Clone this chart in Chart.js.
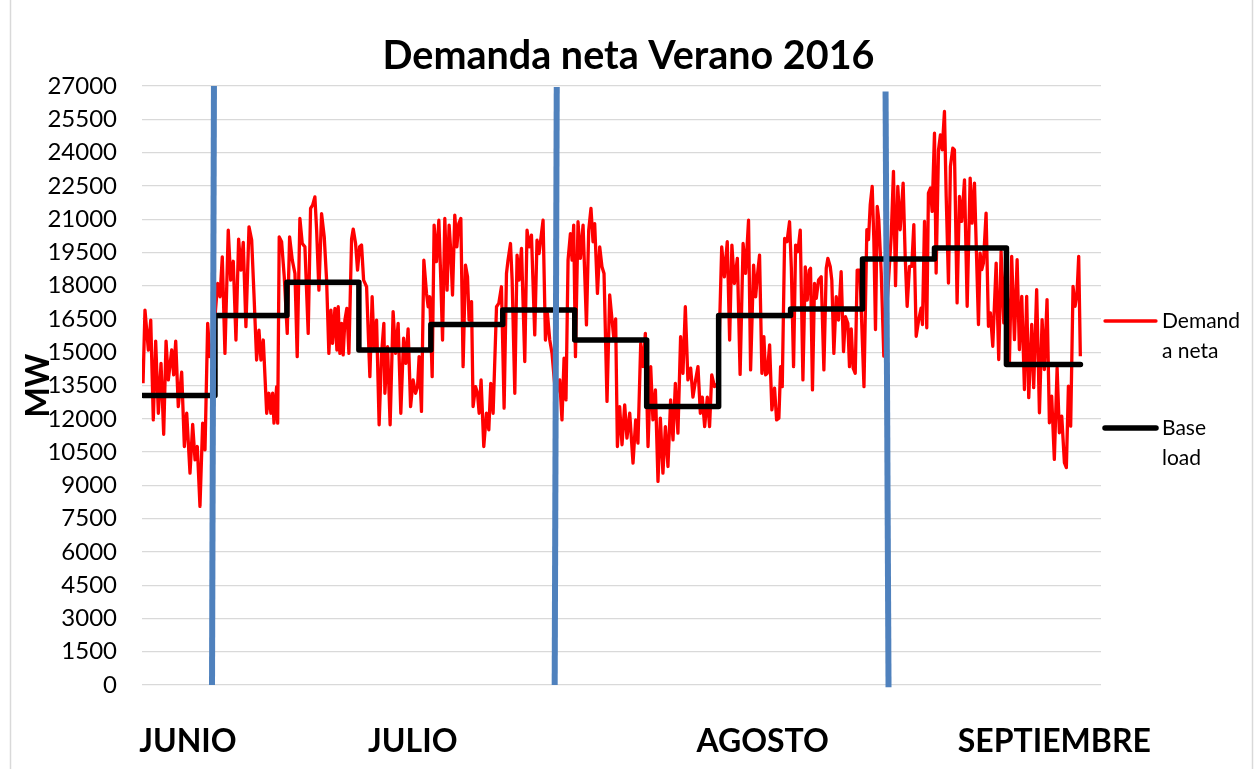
<!DOCTYPE html>
<html lang="es">
<head>
<meta charset="utf-8">
<title>Demanda neta Verano 2016</title>
<script src="https://cdn.jsdelivr.net/npm/chart.js@4.4.1/dist/chart.umd.min.js"></script>
<style>
  html, body { margin: 0; padding: 0; background: #fff; }
  #wrap { position: relative; width: 1257px; height: 769px; }
</style>
</head>
<body>
<div id="wrap"><canvas id="demanda"></canvas></div>
<script>
"use strict";

const demandaNeta = [
  [0.00, 13600], [0.19, 16900], [0.52, 15100], [0.75, 16450], [1.00, 11950], [1.23, 15500], [1.49, 12250],
  [1.75, 14500], [2.01, 11300], [2.24, 15500], [2.46, 13750], [2.79, 15100], [2.98, 13980], [3.18, 15500],
  [3.43, 12550], [3.76, 14100], [4.02, 10750], [4.25, 12250], [4.57, 9550], [4.83, 11750], [5.06, 10150],
  [5.28, 10750], [5.54, 8050], [5.80, 11800], [6.03, 10600], [6.29, 16300], [6.51, 14800], [6.81, 15500],
  [7.26, 18100], [7.49, 17500], [7.71, 19300], [7.97, 14950], [8.29, 20500], [8.53, 18250], [8.78, 19100],
  [9.04, 15550], [9.30, 20100], [9.53, 18700], [9.75, 19950], [10.01, 16150], [10.31, 20650], [10.57, 20050],
  [10.79, 17650], [11.05, 14650], [11.28, 16000], [11.47, 14650], [11.70, 15550], [12.03, 12250], [12.25, 13150],
  [12.44, 12250], [12.61, 13150], [12.74, 11800], [13.00, 13450], [13.10, 11800], [13.25, 20200], [13.48, 19980],
  [13.74, 18400], [14.03, 15850], [14.26, 20200], [14.52, 19150], [14.78, 18550], [15.00, 14800], [15.26, 21030],
  [15.49, 19900], [15.75, 19750], [16.07, 15850], [16.30, 21480], [16.50, 21630], [16.72, 22000], [16.89, 20500],
  [17.11, 17800], [17.37, 21250], [17.63, 20200], [17.86, 18250], [18.08, 14950], [18.28, 16900], [18.44, 15400],
  [18.67, 16980], [18.86, 15100], [18.99, 17050], [19.15, 14950], [19.32, 16300], [19.47, 14880], [19.64, 16450],
  [19.83, 16980], [20.03, 14950], [20.29, 20100], [20.45, 20550], [20.68, 19900], [20.87, 18700], [21.07, 19750],
  [21.26, 19830], [21.46, 18250], [21.75, 17950], [22.07, 13900], [22.29, 17500], [22.49, 15100], [22.72, 16450],
  [22.97, 11730], [23.21, 14950], [23.43, 16300], [23.53, 13150], [23.79, 15250], [24.04, 11730], [24.33, 16830],
  [24.57, 14950], [24.82, 16300], [25.08, 12250], [25.35, 15630], [25.57, 14500], [25.79, 16050], [26.03, 12550],
  [26.28, 13750], [26.51, 13150], [26.71, 13450], [26.86, 14800], [27.09, 12330], [27.32, 19150], [27.58, 17650],
  [27.74, 17050], [27.90, 17500], [28.13, 13900], [28.32, 20730], [28.55, 19080], [28.78, 20950], [28.97, 18250],
  [29.14, 15550], [29.36, 21030], [29.58, 17800], [29.78, 20730], [29.94, 19530], [30.11, 17580], [30.33, 21180],
  [30.53, 19750], [30.72, 20800], [30.92, 21030], [31.14, 14350], [31.37, 18930], [31.57, 18400], [31.72, 16450],
  [31.96, 17280], [32.11, 12550], [32.35, 13450], [32.54, 13150], [32.70, 12250], [32.89, 13750], [33.15, 10750],
  [33.41, 12250], [33.64, 11500], [33.83, 13600], [34.06, 12250], [34.39, 17050], [34.61, 17200], [34.87, 17950],
  [35.13, 12480], [35.36, 18550], [35.51, 19150], [35.75, 19900], [35.91, 18250], [36.17, 13150], [36.39, 19380],
  [36.58, 18250], [36.82, 19680], [37.14, 14580], [37.36, 20500], [37.56, 19750], [37.79, 20280], [38.11, 15780],
  [38.33, 20050], [38.53, 19450], [38.92, 20950], [39.15, 15550], [39.34, 16750], [39.57, 15550], [39.79, 14950],
  [40.15, 13000], [40.54, 13750], [40.76, 11950], [40.96, 14730], [41.15, 12850], [41.35, 19150], [41.58, 20350],
  [41.74, 19150], [41.90, 20730], [42.07, 14800], [42.32, 20880], [42.55, 19230], [42.81, 20730], [43.14, 16230],
  [43.36, 20500], [43.58, 21480], [43.78, 19980], [43.94, 20800], [44.21, 17650], [44.43, 19750], [44.65, 18850],
  [44.85, 18550], [45.14, 12780], [45.40, 17580], [45.63, 16450], [45.82, 15550], [45.98, 16500], [46.15, 10750],
  [46.37, 12550], [46.60, 10830], [46.86, 12630], [47.08, 11130], [47.35, 12250], [47.67, 10000], [47.93, 11950],
  [48.15, 10900], [48.42, 15400], [48.64, 14350], [48.87, 15850], [49.13, 10750], [49.39, 14350], [49.61, 11950],
  [49.85, 13300], [50.10, 9180], [50.33, 12030], [50.58, 9550], [50.82, 11650], [51.07, 9850], [51.33, 12850],
  [51.56, 11050], [51.79, 13600], [52.04, 11350], [52.30, 15700], [52.53, 14050], [52.76, 17050], [53.01, 13750],
  [53.28, 14280], [53.50, 12980], [53.76, 13750], [53.99, 14350], [54.22, 12250], [54.41, 12980], [54.64, 11650],
  [54.90, 12980], [55.12, 11650], [55.33, 13980], [55.60, 13450], [55.94, 13600], [56.30, 19750], [56.56, 18400],
  [56.84, 19980], [57.07, 15550], [57.29, 19830], [57.53, 18100], [57.82, 19230], [58.09, 14000], [58.38, 19900],
  [58.62, 18550], [58.91, 20950], [59.11, 14200], [59.40, 18930], [59.60, 17500], [59.76, 18400], [59.98, 19380],
  [60.21, 14050], [60.40, 15700], [60.57, 13980], [60.73, 14050], [60.96, 15330], [61.18, 12400], [61.44, 13380],
  [61.64, 11950], [61.86, 12030], [62.03, 14350], [62.19, 13450], [62.42, 20130], [62.65, 19980], [62.90, 20880],
  [63.07, 18850], [63.29, 14350], [63.49, 19830], [63.71, 19530], [63.94, 20500], [64.20, 13750], [64.43, 18850],
  [64.62, 17350], [64.82, 18700], [64.94, 18780], [65.13, 13300], [65.33, 18100], [65.50, 17430], [65.72, 18250],
  [65.98, 18400], [66.24, 14200], [66.47, 18780], [66.63, 19230], [66.86, 18850], [67.01, 18250], [67.21, 14950],
  [67.44, 17500], [67.66, 16450], [67.92, 18630], [68.15, 15030], [68.34, 16600], [68.57, 16300], [68.73, 14350],
  [68.90, 16050], [69.09, 14280], [69.29, 14050], [69.48, 18700], [69.74, 18700], [70.14, 13450], [70.42, 20520],
  [70.58, 20070], [70.75, 21650], [70.94, 22470], [71.10, 20070], [71.26, 16020], [71.43, 21570], [71.58, 20970],
  [71.82, 18570], [72.07, 14820], [72.43, 17500], [72.79, 20220], [73.01, 23150], [73.21, 18000], [73.43, 22470],
  [73.66, 20520], [73.95, 22620], [74.15, 19320], [74.34, 17070], [74.57, 18870], [74.79, 18870], [74.99, 20750],
  [75.22, 15720], [75.47, 16470], [75.70, 16990], [75.83, 16250], [76.03, 20900], [76.25, 16100], [76.41, 22170],
  [76.61, 22400], [76.77, 21350], [77.00, 24870], [77.16, 18570], [77.39, 24120], [77.58, 24800], [77.75, 24120],
  [77.97, 25850], [78.14, 22020], [78.36, 18120], [78.55, 23370], [78.78, 24200], [78.94, 24120], [79.20, 17220],
  [79.43, 22020], [79.65, 20900], [79.92, 22770], [80.18, 17070], [80.47, 22850], [80.66, 20820], [80.89, 22620],
  [81.28, 16250], [81.44, 19470], [81.60, 18720], [81.76, 19020], [82.02, 21270], [82.25, 16170], [82.44, 16770],
  [82.67, 15270], [83.00, 19020], [83.25, 14670], [83.48, 19550], [83.74, 16320], [83.97, 19320], [84.29, 14520],
  [84.51, 19320], [84.78, 15570], [85.04, 19170], [85.26, 15120], [85.49, 17520], [85.75, 13320], [85.97, 17520],
  [86.17, 12950], [86.46, 16250], [86.65, 13400], [86.94, 17820], [87.21, 12270], [87.47, 16470], [87.69, 14220],
  [87.95, 17370], [88.18, 11820], [88.40, 13020], [88.66, 10170], [88.93, 14300], [89.15, 11370], [89.38, 12120],
  [89.64, 10020], [89.83, 9800], [90.03, 13470], [90.25, 11670], [90.48, 17970], [90.68, 17070], [90.87, 17670],
  [91.03, 19320], [91.19, 14820]
];

// Base load, un valor por semana
const semanasInicio = [0, 7, 14, 21, 28, 35, 42, 49, 56, 63, 70, 77, 84];
const finPeriodo = 91.2;
const baseLoadMW = [13050, 16650, 18150, 15100, 16250, 16900, 15550, 12550, 16650, 16950, 19200, 19700, 14450];

// Trazos azules que separan los meses (extremo inferior y superior)
const separadorDiaInf = [6.71, 40.05, 72.53];
const separadorDiaSup = [6.9, 40.25, 72.24];
const separadorMWInf = [0, 0, -100];
const separadorMWSup = [27000, 26950, 26750];

const mesesDia = [4.37, 26.25, 60.28, 88.66];
const mesesNombre = ["JUNIO", "JULIO", "AGOSTO", "SEPTIEMBRE"];

const ejeMin = 0;
const ejeMax = 27000;
const ejePaso = 1500;

const FUENTE = "Lato, 'Open Sans', sans-serif";

const basePuntos = semanasInicio.map((d, i) => ({ x: d, y: baseLoadMW[i] }));
basePuntos.push({ x: finPeriodo, y: baseLoadMW[baseLoadMW.length - 1] });

const separadores = separadorDiaInf.map((d, i) => ({
  label: "",
  data: [
    { x: d, y: separadorMWInf[i] },
    { x: separadorDiaSup[i], y: separadorMWSup[i] },
  ],
  borderColor: "#4f81bd",
  borderWidth: 6,
  pointRadius: 0,
  clip: false,
  order: 0,
}));

const marco = {
  id: "marco",
  beforeDraw(chart) {
    const { ctx, width, height } = chart;
    ctx.save();
    ctx.fillStyle = "#ffffff";
    ctx.fillRect(0, 0, width, height);
    ctx.restore();
  },
  afterDraw(chart) {
    const { ctx, height } = chart;
    ctx.save();
    ctx.strokeStyle = "#d9d9d9";
    ctx.lineWidth = 1.5;
    ctx.beginPath();
    ctx.moveTo(10.5, 0);
    ctx.lineTo(10.5, height);
    ctx.moveTo(1252.5, 0);
    ctx.lineTo(1252.5, height);
    ctx.stroke();
    ctx.restore();
  },
};

// Leyenda al estilo Excel, con el texto partido en dos renglones
const leyenda = {
  id: "leyendaExcel",
  afterDraw(chart) {
    const ctx = chart.ctx;
    const items = [
      { ds: 0, y: 321, lines: ["Demand", "a neta"] },
      { ds: 1, y: 428, lines: ["Base", "load"] },
    ];
    ctx.save();
    items.forEach((item) => {
      const ds = chart.data.datasets[item.ds];
      ctx.strokeStyle = ds.borderColor;
      ctx.lineWidth = ds.borderWidth;
      ctx.lineCap = "round";
      ctx.beginPath();
      ctx.moveTo(1105, item.y);
      ctx.lineTo(1156, item.y);
      ctx.stroke();
      ctx.fillStyle = "#000";
      ctx.font = "21px " + FUENTE;
      ctx.textBaseline = "middle";
      ctx.textAlign = "left";
      item.lines.forEach((t, k) => ctx.fillText(t, 1162, item.y + k * 30));
    });
    ctx.restore();
  },
};

new Chart(document.getElementById("demanda"), {
  type: "line",
  data: {
    datasets: [
      {
        label: "Demanda neta",
        data: demandaNeta.map(([x, y]) => ({ x, y })),
        borderColor: "#ff0000",
        borderWidth: 3.3,
        borderJoinStyle: "round",
        pointRadius: 0,
        tension: 0,
        order: 2,
      },
      {
        label: "Base load",
        data: basePuntos,
        borderColor: "#000000",
        borderWidth: 5.5,
        borderJoinStyle: "round",
        borderCapStyle: "round",
        stepped: "before",
        pointRadius: 0,
        order: 1,
      },
      ...separadores,
    ],
  },
  options: {
    responsive: true,
    maintainAspectRatio: false,
    animation: false,
    layout: {
      padding: 0,
    },
    plugins: {
      legend: { display: false },
      tooltip: { enabled: false },
      title: {
        display: true,
        text: "Demanda neta Verano 2016",
        color: "#000",
        font: { family: FUENTE, size: 39.5, weight: "bold" },
        padding: { top: 33, bottom: 5.6 },
      },
    },
    scales: {
      x: {
        type: "linear",
        min: -0.1,
        max: 93.2,
        grid: { display: false, drawTicks: false },
        border: { display: false },
        afterBuildTicks(scale) {
          scale.ticks = mesesDia.map((v) => ({ value: v }));
        },
        afterFit(scale) {
          scale.height = 84;
        },
        ticks: {
          autoSkip: false,
          maxRotation: 0,
          padding: 37,
          color: "#000",
          font: { family: FUENTE, size: 32, weight: "bold" },
          callback(value, index) {
            return mesesNombre[index];
          },
        },
      },
      y: {
        min: ejeMin,
        max: ejeMax,
        grid: { color: "#d9d9d9", lineWidth: 1.2, drawTicks: false },
        border: { display: false },
        afterFit(scale) {
          scale.width = 142;
        },
        ticks: {
          stepSize: ejePaso,
          padding: 25,
          color: "#000",
          font: { family: FUENTE, size: 24 },
          callback(value) {
            return String(value);
          },
        },
        title: {
          display: true,
          text: "MW",
          color: "#000",
          font: { family: FUENTE, size: 32, weight: "bold" },
          padding: { top: 19, bottom: 0 },
        },
      },
      // hueco a la derecha para la leyenda
      leyendaHueco: {
        type: "linear",
        position: "right",
        grid: { display: false, drawTicks: false },
        border: { display: false },
        ticks: { display: false },
        afterFit(scale) {
          scale.width = 156;
        },
      },
    },
  },
  plugins: [marco, leyenda],
});
</script>
</body>
</html>
